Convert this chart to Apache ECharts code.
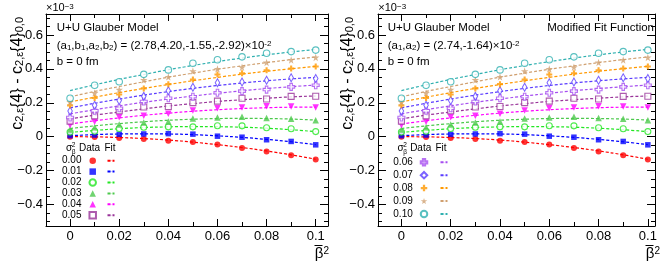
<!DOCTYPE html>
<html><head><meta charset="utf-8">
<script src="https://cdn.jsdelivr.net/npm/echarts@6/dist/echarts.min.js"></script>
<style>html,body{margin:0;padding:0;background:#fff}#c{width:664px;height:266px}</style>
</head><body><div id="c"></div>
<script>
// ---------- data ----------
const betaSq = [0, 0.01, 0.02, 0.03, 0.04, 0.05, 0.06, 0.07, 0.08, 0.09, 0.10];
const sigmaLabels = ['0.00','0.01','0.02','0.03','0.04','0.05','0.06','0.07','0.08','0.09','0.10'];
const xMajorTicks = [0, 0.02, 0.04, 0.06, 0.08, 0.1];
const xMinorTicks = [0.01, 0.03, 0.05, 0.07, 0.09];
const yMajorTicks = [-0.4, -0.2, 0, 0.2, 0.4, 0.6];
const yMinorTicks = [-0.5,-0.45,-0.35,-0.3,-0.25,-0.15,-0.1,-0.05,0.05,0.1,0.15,0.25,0.3,0.35,0.45,0.5,0.55,0.65,0.7];

// data points (units of 1e-3)
const dataS000 = [0.000, -0.002, -0.008, -0.013, -0.024, -0.032, -0.046, -0.066, -0.088, -0.110, -0.134];
const dataS001 = [0.006, 0.010, 0.014, 0.016, 0.018, 0.015, 0.003, -0.003, -0.018, -0.028, -0.048];
const dataS002 = [0.027, 0.032, 0.048, 0.056, 0.058, 0.058, 0.065, 0.064, 0.053, 0.047, 0.030];
const dataS003 = [0.043, 0.055, 0.072, 0.084, 0.090, 0.108, 0.113, 0.118, 0.110, 0.106, 0.097];
const dataS004 = [0.068, 0.088, 0.115, 0.124, 0.136, 0.154, 0.168, 0.172, 0.180, 0.178, 0.172];
const dataS005 = [0.092, 0.123, 0.153, 0.175, 0.178, 0.201, 0.210, 0.227, 0.222, 0.238, 0.239];
const dataS006 = [0.113, 0.153, 0.168, 0.208, 0.227, 0.236, 0.259, 0.269, 0.278, 0.294, 0.304];
const dataS007 = [0.151, 0.186, 0.214, 0.238, 0.271, 0.292, 0.318, 0.323, 0.333, 0.348, 0.343];
const dataS008 = [0.185, 0.228, 0.249, 0.285, 0.310, 0.337, 0.367, 0.374, 0.392, 0.402, 0.414];
const dataS009 = [0.205, 0.258, 0.278, 0.335, 0.353, 0.387, 0.400, 0.410, 0.438, 0.453, 0.468];
const dataS010 = [0.227, 0.304, 0.324, 0.368, 0.394, 0.433, 0.454, 0.471, 0.492, 0.502, 0.511];

// fit curves read at the same beta^2 values
const fitS000 = [0.000, -0.001, -0.005, -0.011, -0.020, -0.032, -0.047, -0.064, -0.084, -0.107, -0.133];
const fitS001 = [0.006, 0.012, 0.016, 0.017, 0.016, 0.012, 0.005, -0.004, -0.016, -0.030, -0.047];
const fitS002 = [0.025, 0.037, 0.047, 0.054, 0.058, 0.060, 0.059, 0.056, 0.050, 0.041, 0.030];
const fitS003 = [0.048, 0.064, 0.077, 0.088, 0.097, 0.103, 0.107, 0.108, 0.107, 0.104, 0.098];
const fitS004 = [0.075, 0.094, 0.111, 0.126, 0.139, 0.150, 0.159, 0.166, 0.171, 0.174, 0.175];
const fitS005 = [0.105, 0.127, 0.146, 0.164, 0.181, 0.195, 0.208, 0.218, 0.227, 0.235, 0.240];
const fitS006 = [0.135, 0.159, 0.182, 0.203, 0.222, 0.240, 0.256, 0.271, 0.284, 0.295, 0.305];
const fitS007 = [0.170, 0.197, 0.222, 0.245, 0.266, 0.285, 0.302, 0.317, 0.330, 0.341, 0.350];
const fitS008 = [0.205, 0.233, 0.260, 0.285, 0.308, 0.330, 0.350, 0.369, 0.386, 0.401, 0.415];
const fitS009 = [0.235, 0.267, 0.296, 0.324, 0.351, 0.375, 0.398, 0.418, 0.437, 0.455, 0.470];
const fitS010 = [0.272, 0.306, 0.338, 0.367, 0.395, 0.420, 0.443, 0.464, 0.483, 0.500, 0.515];

const dataSets = [dataS000,dataS001,dataS002,dataS003,dataS004,dataS005,dataS006,dataS007,dataS008,dataS009,dataS010];
const fitSets = [fitS000,fitS001,fitS002,fitS003,fitS004,fitS005,fitS006,fitS007,fitS008,fitS009,fitS010];

// ---------- styles ----------
const FONT = 'Liberation Sans';
const crossPath = 'path://M2.6,0H5.4V2.6H8V5.4H5.4V8H2.6V5.4H0V2.6H2.6Z';
const starPath = 'path://M50,0L61,35H98L68,57L79,91L50,70L21,91L32,57L2,35H39Z';
const mk = [
  {c:'#ff0000', s:'circle', z:6},
  {c:'#0000ff', s:'rect', z:5.5},
  {c:'#22e622', s:'circle', z:6, open:true},
  {c:'#4cc94c', s:'triangle', z:6.5},
  {c:'#ff00ff', s:'triangle', z:6.5, rot:180},
  {c:'#993399', s:'rect', z:6, open:true},
  {c:'#a64ef0', s:crossPath, z:7, open:true},
  {c:'#5a3cff', s:'diamond', z:[4.5,8], open:true},
  {c:'#ff9900', s:crossPath, z:6},
  {c:'#d0a070', s:starPath, z:7.5},
  {c:'#30b0b0', s:'circle', z:6.5, open:true}
];

const panels = [
  {grid:{left:46, top:14, width:282, height:212}, xmin:-0.0098, xmax:0.105},
  {grid:{left:378, top:14, width:277, height:212}, xmin:-0.0095, xmax:0.1029}
];
const YMIN = -0.527, YMAX = 0.724;

const xAxes = [], yAxes = [], series = [];
const black = {color:'#000', width:1};
const noLine = {show:false, onZero:false};
panels.forEach((p, gi) => {
  const common = {gridIndex:gi, type:'value', min:p.xmin, max:p.xmax, splitLine:{show:false}};
  xAxes.push(Object.assign({}, common, {position:'bottom', axisLine:{show:true, onZero:false, lineStyle:black},
    axisTick:{inside:true, length:7, lineStyle:black, customValues:xMajorTicks},
    axisLabel:{customValues:xMajorTicks, color:'#000', fontSize:13, fontFamily:FONT, margin:4,
      formatter:v => String(+v.toFixed(2))}}));
  xAxes.push(Object.assign({}, common, {position:'top', axisLine:{show:true, onZero:false, lineStyle:black},
    axisTick:{inside:true, length:7, lineStyle:black, customValues:xMajorTicks}, axisLabel:{show:false}}));
  xAxes.push(Object.assign({}, common, {position:'bottom', axisLine:noLine,
    axisTick:{inside:true, length:4, lineStyle:black, customValues:xMinorTicks}, axisLabel:{show:false}}));
  xAxes.push(Object.assign({}, common, {position:'top', axisLine:noLine,
    axisTick:{inside:true, length:4, lineStyle:black, customValues:xMinorTicks}, axisLabel:{show:false}}));
  const yc = {gridIndex:gi, type:'value', min:YMIN, max:YMAX, splitLine:{show:false}};
  yAxes.push(Object.assign({}, yc, {position:'left', axisLine:{show:true, onZero:false, lineStyle:black},
    axisTick:{inside:true, length:8, lineStyle:black, customValues:yMajorTicks},
    axisLabel:{customValues:yMajorTicks, color:'#000', fontSize:13, fontFamily:FONT, margin:3,
      formatter:v => Math.abs(v) < 1e-9 ? '0' : (v < 0 ? '\u2212' + Math.abs(v).toFixed(1) : v.toFixed(1))}}));
  yAxes.push(Object.assign({}, yc, {position:'right', axisLine:{show:true, onZero:false, lineStyle:black},
    axisTick:{inside:true, length:8, lineStyle:black, customValues:yMajorTicks}, axisLabel:{show:false}}));
  yAxes.push(Object.assign({}, yc, {position:'left', axisLine:noLine,
    axisTick:{inside:true, length:4, lineStyle:black, customValues:yMinorTicks}, axisLabel:{show:false}}));
  yAxes.push(Object.assign({}, yc, {position:'right', axisLine:noLine,
    axisTick:{inside:true, length:4, lineStyle:black, customValues:yMinorTicks}, axisLabel:{show:false}}));

  dataSets.forEach((arr, i) => {
    const m = mk[i];
    series.push({
      name:'fit ' + sigmaLabels[i], type:'line', xAxisIndex:gi*4, yAxisIndex:gi*4,
      data: betaSq.map((x, j) => [x, fitSets[i][j]]), smooth:true, symbol:'none', z:2,
      color:m.c, itemStyle:{color:m.c}, lineStyle:{color:m.c, width:1.2, type:[3,2]}
    });
  });
  dataSets.forEach((arr, i) => {
    const m = mk[i];
    series.push({
      name:sigmaLabels[i], type:'scatter', xAxisIndex:gi*4, yAxisIndex:gi*4,
      data: betaSq.map((x, j) => [x, arr[j]]), symbol:m.s, symbolSize:m.z, symbolRotate:m.rot || 0, z:3,
      itemStyle: m.open ? {color:'#fff', borderColor:m.c, borderWidth:1.1} : {color:m.c}
    });
  });
});

const legTxt = {fontSize:10, fontFamily:FONT, color:'#000', padding:[0,3,0,0]};
const legends = [
  {data:sigmaLabels.slice(0,6), left:62, top:155.7, itemGap:0.9},
  {data:sigmaLabels.slice(6), left:393.3, top:157.3, itemGap:2.9}
].map(l => Object.assign({orient:'vertical', align:'right', itemWidth:6.5, itemHeight:6.5, padding:0,
  selectedMode:false, textStyle:legTxt}, l));
[
  {data:sigmaLabels.slice(0,6).map(s => 'fit ' + s), left:106.5, top:155.7, itemGap:0.9},
  {data:sigmaLabels.slice(6).map(s => 'fit ' + s), left:439.5, top:157.3, itemGap:2.9}
].forEach(l => legends.push(Object.assign({orient:'vertical', align:'left', itemWidth:7, itemHeight:1, padding:0,
  selectedMode:false, formatter:() => ' ', textStyle:{fontSize:10, fontFamily:FONT}}, l)));

// ---------- texts ----------
const sub = {fontSize:8, fontFamily:FONT, verticalAlign:'bottom', lineHeight:4};
const sup = {fontSize:8, fontFamily:FONT, verticalAlign:'top', lineHeight:4};
function txt(x, y, text, o) {
  return {type:'text', x, y, silent:true, z:10, rotation:(o && o.rot) || 0,
    style:Object.assign({text, fill:'#000', fontSize:11.5, fontFamily:FONT, align:'left', verticalAlign:'middle',
      rich:{s:sub, p:sup}}, o && o.style)};
}
const yTitle = 'c{s|2,\u03b5}{4} - c{s|2,\u03b5}{4}{s|0,0}';
const yTitleRich = {s:{fontSize:11, fontFamily:FONT, verticalAlign:'bottom', lineHeight:5}};
const xTitleRich = {b:{fontSize:15, fontFamily:FONT}, p:{fontSize:10, fontFamily:FONT, verticalAlign:'top', lineHeight:5}};
const graphic = [];
[[0, '(a{s|1},b{s|1},a{s|2},b{s|2}) = (2.78,4.20,-1.55,-2.92)\u00d710{p|-2}', 0, 329, 89.5, 110, 69],
 [1, '(a{s|1},a{s|2}) = (2.74,-1.64)\u00d710{p|-2}', 330, 660, 420.7, 441, 400.5]].forEach(
 ([dx, line2, tdx, xr, dataX, fitX, sigX]) => {
  graphic.push(txt(46 + (dx ? 332.3 : 0), 8, '\u00d710{p|\u22123}', {style:{fontSize:11}}));
  graphic.push(txt(56.7 + (dx ? 331 : 0), 28.3, 'U+U Glauber Model'));
  graphic.push(txt(56.7 + (dx ? 331 : 0), 45.5, line2));
  graphic.push(txt(56.7 + (dx ? 331 : 0), 62, 'b = 0 fm'));
  graphic.push(txt(17.5 + tdx, 17, yTitle, {rot:Math.PI/2, style:{fontSize:16, align:'right', rich:yTitleRich}}));
  graphic.push(txt(xr, 254, '{b|\u03b2}{p|2}', {style:{align:'right', rich:xTitleRich}}));
  graphic.push({type:'line', silent:true, z:10, shape:{x1:xr - 14.5, y1:245.5, x2:xr - 6.5, y2:245.5},
    style:{stroke:'#000', lineWidth:1}});
  graphic.push(txt(sigX, 148.5, '\u03c3', {style:{fontSize:10, align:'center'}}));
  graphic.push(txt(sigX + 4.5, 145, '2', {style:{fontSize:6.5, align:'center'}}));
  graphic.push(txt(sigX + 4.5, 152, '\u03b2', {style:{fontSize:6.5, align:'center'}}));
  graphic.push(txt(dataX, 148.5, 'Data', {style:{fontSize:10, align:'center'}}));
  graphic.push(txt(fitX, 148.5, 'Fit', {style:{fontSize:10, align:'center'}}));
});
graphic.push(txt(654, 28.3, 'Modified Fit Function', {style:{align:'right'}}));

const chart = echarts.init(document.getElementById('c'), null, {renderer:'canvas'});
chart.setOption({
  animation:false,
  backgroundColor:'#fff',
  textStyle:{fontFamily:FONT},
  grid:panels.map(p => p.grid),
  xAxis:xAxes, yAxis:yAxes,
  legend:legends,
  series,
  graphic
});
</script></body></html>
